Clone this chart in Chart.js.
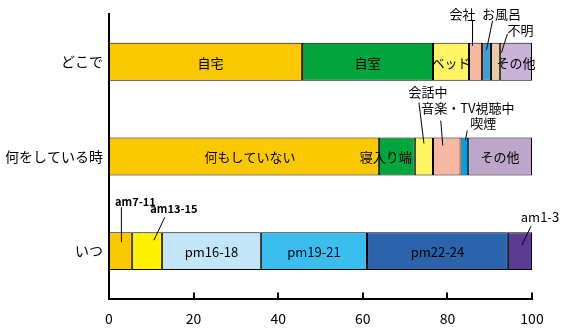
<!DOCTYPE html>
<html>
<head>
<meta charset="utf-8">
<script src="https://cdn.jsdelivr.net/npm/chart.js@4.4.1/dist/chart.umd.min.js"></script>
<style>
    body { margin: 0; background: #fff; }
</style>
</head>
<body>
<canvas id="chart" width="562" height="333"></canvas>
<script>
const rows = ['どこで', '何をしている時', 'いつ'];

const whereLabels = ['自宅', '自室', 'ベッド', '会社', 'お風呂', '不明', 'その他'];
const whereValues = [45.6, 31.0, 8.5, 3.1, 2.1, 2.1, 7.6];

const doingLabels = ['何もしていない', '寝入り端', '会話中', '音楽・TV視聴中', '喫煙', 'その他'];
const doingValues = [63.8, 8.5, 4.3, 6.5, 1.8, 15.1];

const whenLabels = ['am7-11', 'am13-15', 'pm16-18', 'pm19-21', 'pm22-24', 'am1-3'];
const whenValues = [5.4, 7.1, 23.4, 25.1, 33.3, 5.7];

const xTicks = [0, 20, 40, 60, 80, 100];

const whereColors = ['#FAC800', '#00A53C', '#FFF462', '#F5B9A3', '#35A0DC', '#E8CAA8', '#C9B2D7'];
const doingColors = ['#FAC800', '#00A53C', '#FFF462', '#F5B9A3', '#0A9EE0', '#BDA6C9'];
const whenColors = ['#FAC800', '#FFF000', '#C2E5F8', '#3ABEEF', '#2C63AD', '#5B3C92'];

const segLabels = [whereLabels, doingLabels, whenLabels];
const segValues = [whereValues, doingValues, whenValues];
const segColors = [whereColors, doingColors, whenColors];

// ラベルを外に出すもの (バー中心・上端からのずれ)
const callouts = {
    '会社': {dx: -13, dy: -29, line: [-3, -22, -3, 3]},
    'お風呂': {dx: 15, dy: -29, line: [6, -22, 0, 7]},
    '不明': {dx: 25, dy: -13, line: [12, -9, 6, 10]},
    '会話中': {dx: 4, dy: -45, line: [-5, -35, 0, 6]},
    '音楽・TV視聴中': {dx: 21, dy: -29, line: [-6, -17, -4, 8]},
    '喫煙': {dx: 19, dy: -14, line: [3, -7, 1, 3]},
    'am7-11': {dx: 15, dy: -30, line: [1, -25, 1, 10], bold: true},
    'am13-15': {dx: 27, dy: -23, line: [18, -15, 7, 8], bold: true},
    'am1-3': {dx: 20, dy: -15, line: [11, -6, 2, 13]}
};
const insideShift = {'自宅': 5, '何もしていない': 6, '寝入り端': -11};

const FONT = "'Noto Sans CJK JP', 'Noto Sans', sans-serif";

const maxSegs = Math.max(...segValues.map(v => v.length));
const datasets = [];
for (let i = 0; i < maxSegs; i++) {
    datasets.push({
        data: segValues.map(v => v[i] !== undefined ? v[i] : null),
        backgroundColor: segColors.map(c => c[i] || '#fff'),
        borderColor: '#000',
        borderWidth: 1,
        borderSkipped: false,
        barPercentage: 0.4,
        categoryPercentage: 1
    });
}

const segmentText = {
    id: 'segmentText',
    afterDatasetsDraw(chart) {
        const ctx = chart.ctx;
        ctx.save();
        ctx.fillStyle = '#000';
        ctx.strokeStyle = '#000';
        ctx.lineWidth = 1;
        ctx.textAlign = 'center';
        ctx.textBaseline = 'middle';
        chart.data.datasets.forEach((ds, di) => {
            const meta = chart.getDatasetMeta(di);
            meta.data.forEach((bar, r) => {
                if (ds.data[r] === null) return;
                const label = segLabels[r][di];
                const cx = (bar.x + bar.base) / 2;
                const top = bar.y - bar.height / 2;
                const c = callouts[label];
                if (c) {
                    ctx.font = (c.bold ? 'bold 11px ' : '13px ') + FONT;
                    ctx.fillText(label, cx + c.dx, top + c.dy);
                    ctx.beginPath();
                    ctx.moveTo(cx + c.line[0], top + c.line[1]);
                    ctx.lineTo(cx + c.line[2], top + c.line[3]);
                    ctx.stroke();
                } else {
                    ctx.font = '13px ' + FONT;
                    ctx.fillText(label, cx + (insideShift[label] || 0), bar.y + 1);
                }
            });
        });
        ctx.restore();
    }
};

// x軸の目盛りは内側に
const innerTicks = {
    id: 'innerTicks',
    afterDraw(chart) {
        const ctx = chart.ctx;
        const xs = chart.scales.x;
        const bottom = chart.chartArea.bottom;
        ctx.save();
        ctx.strokeStyle = '#000';
        ctx.lineWidth = 2;
        xTicks.forEach(v => {
            const px = Math.round(xs.getPixelForValue(v));
            ctx.beginPath();
            ctx.moveTo(px, bottom - 6);
            ctx.lineTo(px, bottom);
            ctx.stroke();
        });
        ctx.restore();
    }
};

new Chart(document.getElementById('chart'), {
    type: 'bar',
    data: {
        labels: rows,
        datasets: datasets
    },
    options: {
        indexAxis: 'y',
        responsive: false,
        animation: false,
        layout: {
            padding: {top: 13, right: 30, bottom: 0, left: 0}
        },
        plugins: {
            legend: {display: false},
            tooltip: {enabled: false}
        },
        scales: {
            x: {
                stacked: true,
                min: 0,
                max: 100,
                afterBuildTicks: scale => {
                    scale.ticks = xTicks.map(v => ({value: v}));
                },
                afterFit: scale => {
                    scale.height = 34.5;
                },
                grid: {display: false, drawTicks: false},
                border: {display: true, color: '#000', width: 2},
                ticks: {
                    color: '#000',
                    padding: 12,
                    maxRotation: 0,
                    font: {family: FONT, size: 14}
                }
            },
            y: {
                stacked: true,
                afterFit: scale => {
                    scale.width = 109;
                },
                grid: {display: false, drawTicks: false},
                border: {display: true, color: '#000', width: 2},
                ticks: {
                    color: '#000',
                    padding: 6,
                    font: {family: FONT, size: 14}
                }
            }
        }
    },
    plugins: [segmentText, innerTicks]
});
</script>
</body>
</html>
